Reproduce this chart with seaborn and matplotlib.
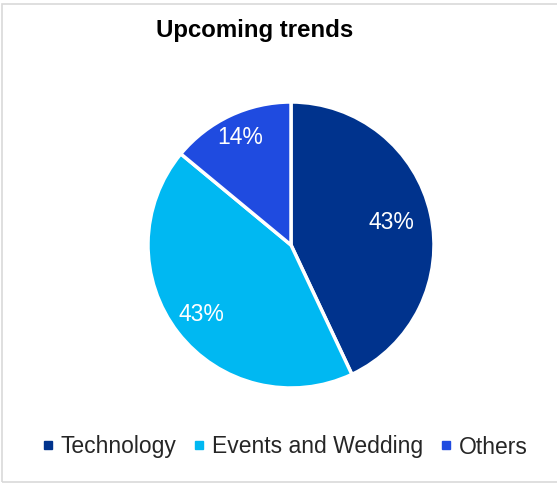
import matplotlib
matplotlib.use("Agg")
import matplotlib.pyplot as plt
import seaborn as sns
from matplotlib.patches import Rectangle
from matplotlib.lines import Line2D

categories = ["Technology", "Events and Wedding", "Others"]
values = [43, 43, 14]
colors = ["#00338D", "#00B8F2", "#1F4BE0"]
title = "Upcoming trends"
label_dist = [0.72, 0.79, 0.83]

sns.set_theme(style="white")
plt.rcParams['font.family'] = ['Liberation Sans', 'DejaVu Sans']

W, H = 557, 484
fig = plt.figure(figsize=(W / 100, H / 100), dpi=100)

cx, cy, r = 291, 245, 143
ax = fig.add_axes([(cx - r) / W, 1 - (cy + r) / H, 2 * r / W, 2 * r / H])
wedges, texts, autotexts = ax.pie(
    values, colors=colors, startangle=90, counterclock=False,
    autopct=lambda p: f"{p:.0f}%", pctdistance=1.0,
    wedgeprops=dict(edgecolor="white", linewidth=2.5),
    textprops=dict(color="white", fontsize=16.5))
for t, d in zip(autotexts, label_dist):
    x, y = t.get_position()
    t.set_position((x * d, y * d))
ax.set_xlim(-1, 1)
ax.set_ylim(-1, 1)
ax.set_aspect("auto")

fig.text(255 / W, 1 - 30 / H, title, ha="center", va="center",
         fontsize=17.3, fontweight="bold", color="black")

handles = [Line2D([0], [0], marker="s", linestyle="none", markersize=6,
                  markerfacecolor=c, markeredgecolor=c) for c in colors]
fig.legend(handles, categories, loc="center", bbox_to_anchor=(285 / W, 1 - 447 / H),
           ncol=3, frameon=False, fontsize=16.5, handlelength=0.5, handletextpad=0.3,
           columnspacing=0.75)

fig.patches.append(Rectangle((2 / W, 2 / H), 1.0, 1 - 6 / H, transform=fig.transFigure,
                             fill=False, edgecolor="#D9D9D9", linewidth=1.2))

fig.savefig("out.png", dpi=100)
